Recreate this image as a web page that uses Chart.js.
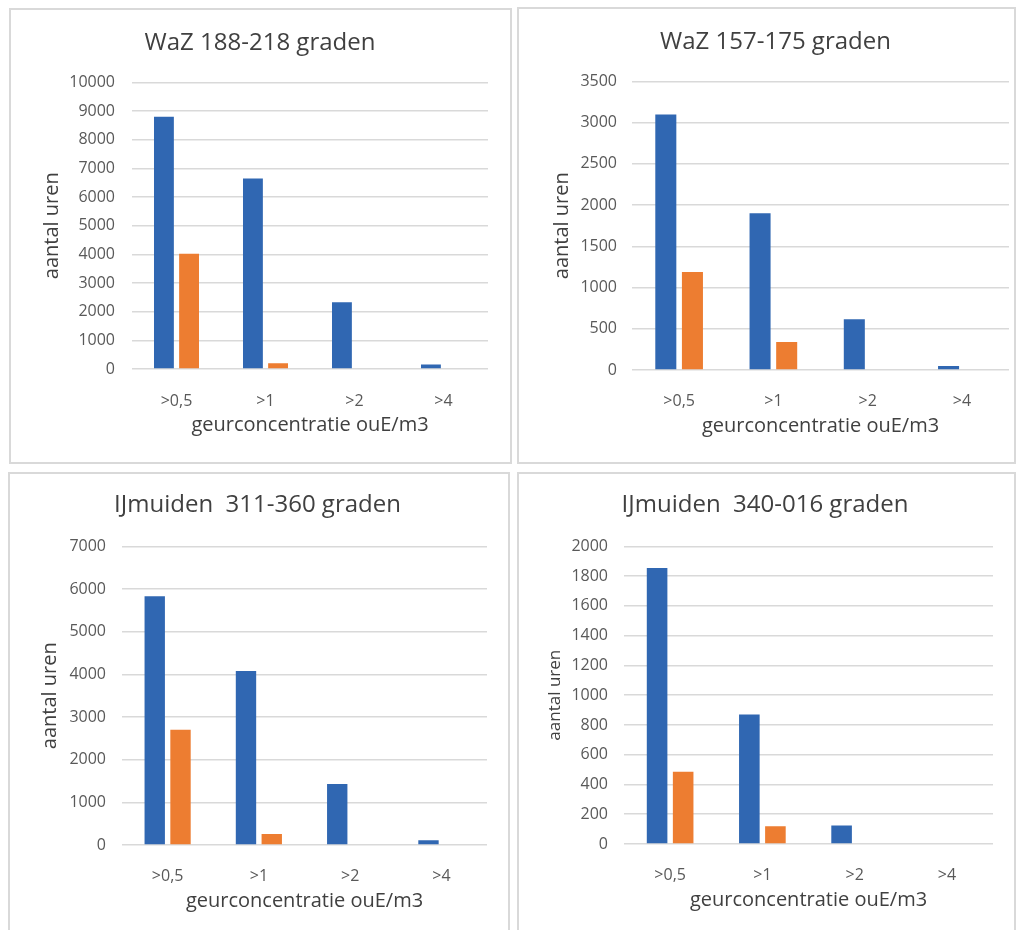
<!DOCTYPE html>
<html>
<head>
<meta charset="utf-8">
<script src="https://cdn.jsdelivr.net/npm/chart.js@4.4.0/dist/chart.umd.min.js"></script>
<style>
  body { margin: 0; background: #fff; width: 1016px; height: 930px; position: relative; overflow: hidden; }
  .panel { position: absolute; border: 2px solid #d9d9d9; box-sizing: border-box; background: #fff; }
  canvas { position: absolute; }
</style>
</head>
<body>
<div class="panel" style="left:9px;top:8px;width:503px;height:456px"></div>
<div class="panel" style="left:517px;top:7px;width:499px;height:457px"></div>
<div class="panel" style="left:8px;top:472px;width:502px;height:470px"></div>
<div class="panel" style="left:517px;top:472px;width:499px;height:470px"></div>

<canvas id="c1" width="500" height="452" style="left:10px;top:10px"></canvas>
<canvas id="c2" width="479" height="453" style="left:536px;top:9px"></canvas>
<canvas id="c3" width="497" height="456" style="left:9px;top:474px"></canvas>
<canvas id="c4" width="494" height="456" style="left:518px;top:474px"></canvas>

<script>
// categorieen (geurconcentratie)
const categories = ['>0,5', '>1', '>2', '>4'];

// WaZ 188-218 graden
const waz188Blue = [8800, 6650, 2330, 160];
const waz188Orange = [4020, 200, 0, 0];

// WaZ 157-175 graden
const waz157Blue = [3100, 1900, 615, 50];
const waz157Orange = [1190, 340, 0, 0];

// IJmuiden 311-360 graden
const ijm311Blue = [5830, 4080, 1430, 110];
const ijm311Orange = [2700, 260, 0, 0];

// IJmuiden 340-016 graden
const ijm340Blue = [1855, 870, 125, 0];
const ijm340Orange = [485, 120, 0, 0];

// y-as schalen
const yMax = [10000, 3500, 7000, 2000];
const yStep = [1000, 500, 1000, 200];

const titles = ['WaZ 188-218 graden', 'WaZ 157-175 graden', 'IJmuiden  311-360 graden', 'IJmuiden  340-016 graden'];

const BLUE = '#3067b2';
const ORANGE = '#ed7d31';
const FONT = "'Open Sans', sans-serif";

function makeChart(id, title, blue, orange, max, step, lay) {
  const ctx = document.getElementById(id).getContext('2d');
  // same padding left and right keeps the title centred on the canvas
  const pad = lay.padRight;
  return new Chart(ctx, {
    type: 'bar',
    data: {
      labels: categories,
      datasets: [
        { data: blue, backgroundColor: BLUE, categoryPercentage: 0.565, barPercentage: 0.79 },
        { data: orange, backgroundColor: ORANGE, categoryPercentage: 0.565, barPercentage: 0.79 }
      ]
    },
    options: {
      responsive: false,
      animation: false,
      layout: { padding: { left: pad, right: pad, top: 0, bottom: 0 } },
      plugins: {
        legend: { display: false },
        tooltip: { enabled: false },
        title: {
          display: true,
          text: title,
          color: '#404040',
          font: { family: FONT, size: 24, weight: 'normal' },
          padding: { top: lay.titleTop, bottom: lay.titleBottom }
        }
      },
      scales: {
        x: {
          grid: { display: false },
          border: { display: false },
          ticks: { color: '#595959', font: { family: FONT, size: 16 }, padding: lay.xTickPad },
          title: {
            display: true,
            text: 'geurconcentratie ouE/m3',
            color: '#404040',
            font: { family: FONT, size: 20 },
            padding: { top: 0, bottom: lay.xTitlePad }
          },
          afterFit: function (scale) { scale.height = lay.xHeight; }
        },
        y: {
          min: 0,
          max: max,
          grid: { color: '#d9d9d9', lineWidth: 1.5, drawTicks: false },
          border: { display: false },
          ticks: {
            stepSize: step,
            color: '#595959',
            font: { family: FONT, size: 16 },
            padding: lay.yTickPad,
            callback: v => String(v)
          },
          title: {
            display: true,
            text: 'aantal uren',
            color: '#404040',
            font: { family: FONT, size: lay.yTitleSize },
            padding: { top: lay.yTitlePad - pad, bottom: 0 }
          },
          afterFit: function (scale) { scale.width = lay.yWidth - pad; }
        }
      }
    }
  });
}

makeChart('c1', titles[0], waz188Blue, waz188Orange, yMax[0], yStep[0],
  { padRight: 22, titleTop: 19, titleBottom: 24.6, xHeight: 93, xTickPad: 14.4, xTitlePad: 25,
    yWidth: 122, yTickPad: 17, yTitlePad: 30, yTitleSize: 20 });

makeChart('c2', titles[1], waz157Blue, waz157Orange, yMax[1], yStep[1],
  { padRight: 6, titleTop: 19, titleBottom: 24.6, xHeight: 92, xTickPad: 13.4, xTitlePad: 24,
    yWidth: 96, yTickPad: 15, yTitlePad: 14, yTitleSize: 20 });

makeChart('c3', titles[2], ijm311Blue, ijm311Orange, yMax[2], yStep[2],
  { padRight: 19, titleTop: 17, titleBottom: 26.6, xHeight: 85, xTickPad: 13.4, xTitlePad: 17,
    yWidth: 113, yTickPad: 16, yTitlePad: 29, yTitleSize: 20 });

makeChart('c4', titles[3], ijm340Blue, ijm340Orange, yMax[3], yStep[3],
  { padRight: 19, titleTop: 17, titleBottom: 26.6, xHeight: 86, xTickPad: 13.4, xTitlePad: 18,
    yWidth: 106, yTickPad: 16, yTitlePad: 26.8, yTitleSize: 17 });
</script>
</body>
</html>
